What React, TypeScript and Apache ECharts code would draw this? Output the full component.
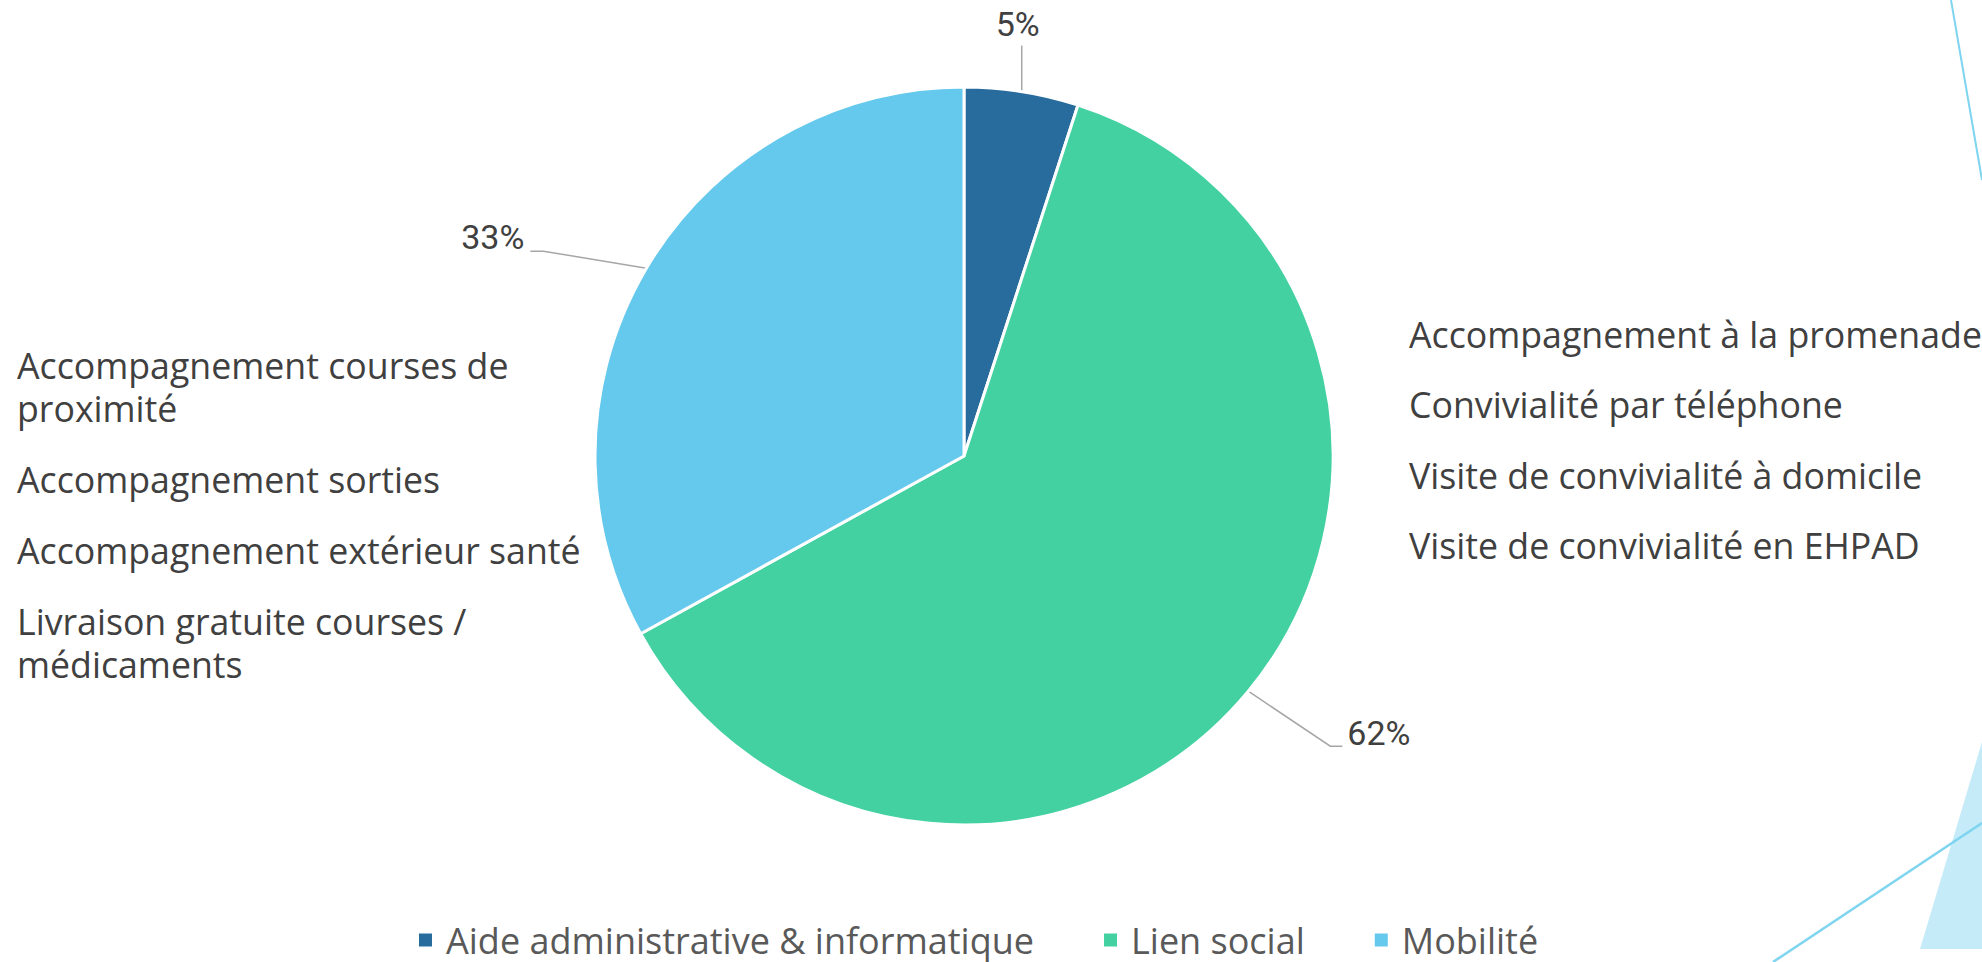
import React, { useEffect, useRef } from "react";
import * as echarts from "echarts";

const categories = ["Aide administrative & informatique", "Lien social", "Mobilité"];
const shares = [5, 62, 33];
const colors = ["#286C9E", "#43D1A1", "#64C9EC"];

const leftNotes = [
  ["Accompagnement courses de", "proximité"],
  ["Accompagnement sorties"],
  ["Accompagnement extérieur santé"],
  ["Livraison gratuite courses /", "médicaments"],
];
const rightNotes = [
  "Accompagnement à la promenade",
  "Convivialité par téléphone",
  "Visite de convivialité à domicile",
  "Visite de convivialité en EHPAD",
];

// layout constants
const W = 1982;
const H = 962;
const CX = 964;
const CY = 456;
const R = 369;
const TEXT_FONT = '"Open Sans", "Noto Sans", sans-serif';
const LABEL_FONT = '"Liberation Sans Narrow", "Roboto", "Open Sans", sans-serif';
const LINE_H = 43;

// label line / text offsets relative to the slice's mid-arc anchor
const labelPlacement = [
  { pts: [[0, -46]], text: [-4, -68], align: "center" },
  { pts: [[82, 55], [94, 55]], text: [99, 42], align: "left" },
  { pts: [[-103, -17], [-116, -17]], text: [-122, -31], align: "right" },
];

function anchors() {
  const total = shares.reduce((a, b) => a + b, 0);
  let cum = 0;
  return shares.map((v) => {
    const f = (cum + v / 2) / total;
    cum += v;
    const t = f * Math.PI * 2;
    return [CX + R * Math.sin(t), CY - R * Math.cos(t)];
  });
}

function noteText(text: string, x: number, y: number) {
  return {
    type: "text",
    silent: true,
    style: {
      text,
      x,
      y,
      font: `35.7px ${TEXT_FONT}`,
      fill: "#404040",
      lineHeight: LINE_H,
      verticalAlign: "top",
      align: "left",
    },
  };
}

export default function App() {
  const ref = useRef<HTMLDivElement>(null);
  useEffect(() => {
    if (!ref.current) return;
    const chart = echarts.init(ref.current, null, { renderer: "svg" });
    const anc = anchors();

    const graphics: any[] = [
      {
        type: "polygon",
        shape: { points: [[1982, 742], [1920, 949], [1982, 949]] },
        style: { fill: "#C5EBF8" },
        silent: true,
      },
      {
        type: "line",
        shape: { x1: 1773, y1: 962, x2: 1982, y2: 823 },
        style: { stroke: "#7FD4EF", lineWidth: 2.5 },
        silent: true,
      },
      {
        type: "line",
        shape: { x1: 1951, y1: 0, x2: 1982, y2: 180 },
        style: { stroke: "#7FD4EF", lineWidth: 2 },
        silent: true,
      },
    ];

    let top = 343.5;
    leftNotes.forEach((lines) => {
      lines.forEach((ln, j) => {
        graphics.push(noteText(ln, 17, top + j * LINE_H));
      });
      top += lines.length * LINE_H + 28;
    });

    rightNotes.forEach((t, i) => {
      graphics.push(noteText(t, 1409, 312.5 + i * 70.3));
    });

    chart.setOption({
      animation: false,
      backgroundColor: "#ffffff",
      color: colors,
      legend: {
        left: 417,
        top: 922,
        padding: 0,
        icon: "rect",
        itemWidth: 15,
        itemHeight: 15,
        itemGap: 68,
        data: categories,
        textStyle: {
          fontFamily: TEXT_FONT,
          fontSize: 36,
          color: "#595959",
          padding: [0, 0, 0, 8],
        },
      },
      graphic: graphics,
      series: [
        {
          type: "pie",
          center: [CX, CY],
          radius: R,
          startAngle: 90,
          clockwise: true,
          avoidLabelOverlap: false,
          emphasis: { disabled: true },
          itemStyle: { borderColor: "#ffffff", borderWidth: 3 },
          label: {
            show: true,
            position: "outside",
            formatter: (p: any) => `${p.value}%`,
            fontFamily: LABEL_FONT,
            fontSize: 34,
            color: "#404040",
          },
          labelLine: {
            show: true,
            length: 30,
            length2: 10,
            lineStyle: { color: "#A6A6A6", width: 1.5 },
          },
          labelLayout: (params: any) => {
            const i = params.dataIndex;
            const a = anc[i];
            const pl = labelPlacement[i];
            const pts = [[a[0], a[1]], ...pl.pts.map((p) => [a[0] + p[0], a[1] + p[1]])];
            return {
              x: a[0] + pl.text[0],
              y: a[1] + pl.text[1],
              align: pl.align,
              verticalAlign: "middle",
              labelLinePoints: pts,
            };
          },
          data: categories.map((name, i) => ({ name, value: shares[i] })),
        },
      ],
    });
    return () => chart.dispose();
  }, []);
  return (
    <div
      ref={ref}
      style={{ position: "fixed", left: 0, top: 0, width: W, height: H }}
    />
  );
}
